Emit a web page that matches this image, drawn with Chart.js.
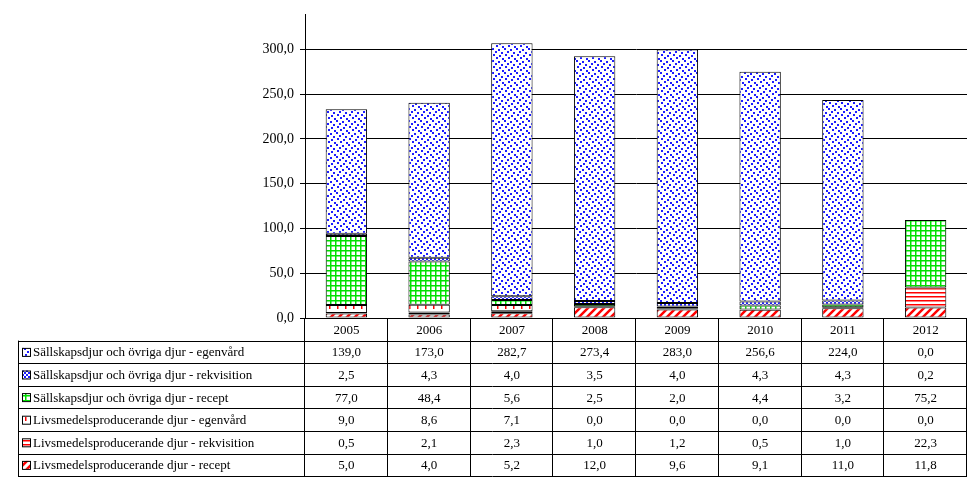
<!DOCTYPE html>
<html><head><meta charset="utf-8">
<script src="https://cdn.jsdelivr.net/npm/chart.js@4"></script>
<style>html,body{margin:0;padding:0;background:#fff}#w{width:967px;height:496px}</style>
</head><body><div id="w"><canvas id="c"></canvas></div>
<script>
const years = ['2005','2006','2007','2008','2009','2010','2011','2012'];
const seriesNames = [
 'Livsmedelsproducerande djur - recept',
 'Livsmedelsproducerande djur - rekvisition',
 'Livsmedelsproducerande djur - egenvård',
 'Sällskapsdjur och övriga djur - recept',
 'Sällskapsdjur och övriga djur - rekvisition',
 'Sällskapsdjur och övriga djur - egenvård'];
const lmRecept = [5.0,4.0,5.2,12.0,9.6,9.1,11.0,11.8];
const lmRekv = [0.5,2.1,2.3,1.0,1.2,0.5,1.0,22.3];
const lmEgen = [9.0,8.6,7.1,0.0,0.0,0.0,0.0,0.0];
const sdRecept = [77.0,48.4,5.6,2.5,2.0,4.4,3.2,75.2];
const sdRekv = [2.5,4.3,4.0,3.5,4.0,4.3,4.3,0.2];
const sdEgen = [139.0,173.0,282.7,273.4,283.0,256.6,224.0,0.0];
const yTicks = [0,50,100,150,200,250,300];

function pat(size, draw){const c=document.createElement('canvas');c.width=c.height=size;const g=c.getContext('2d');draw(g);return g.createPattern(c,'repeat');}
const pDiag=pat(8,g=>{g.fillStyle='#fff';g.fillRect(0,0,8,8);g.strokeStyle='#f00';g.lineWidth=2.5;g.beginPath();g.moveTo(-2,10);g.lineTo(10,-2);g.moveTo(-6,6);g.lineTo(6,-6);g.moveTo(2,14);g.lineTo(14,2);g.stroke();});
const pHoriz=pat(4,g=>{g.fillStyle='#fff';g.fillRect(0,0,4,4);g.fillStyle='#f00';g.fillRect(0,0,4,1.5);});
const pRedDot=pat(8,g=>{g.fillStyle='#fff';g.fillRect(0,0,8,8);g.fillStyle='#f00';g.fillRect(1,1,1.5,4);});
const pGrid=pat(5,g=>{g.fillStyle='#fff';g.fillRect(0,0,5,5);g.fillStyle='#00e000';g.fillRect(0,0,5,1.5);g.fillRect(0,0,1.5,5);});
const pBlueSmall=pat(4,g=>{g.fillStyle='#fff';g.fillRect(0,0,4,4);g.fillStyle='#1c1cff';g.fillRect(0,0,2,2);g.fillRect(2,2,2,2);});
const dots=[[0,0],[6,1],[3,3],[9,4],[1,6],[7,7],[4,9],[10,10]];
const pBlueDot=pat(12,g=>{g.fillStyle='#fff';g.fillRect(0,0,12,12);g.fillStyle='#1c1cff';dots.forEach(([x,y])=>g.fillRect(x,y,2,2));});
const fills=[pDiag,pHoriz,pRedDot,pGrid,pBlueSmall,pBlueDot];
const dataArr=[lmRecept,lmRekv,lmEgen,sdRecept,sdRekv,sdEgen];

const tablePlugin={id:'tbl',afterDraw(ch){
 const g=ch.ctx, xs=ch.scales.x, ca=ch.chartArea;
 const left=18, colW=(ca.right-ca.left)/years.length, top=ca.bottom, rh=22.6;
 g.save();g.strokeStyle='#000';g.lineWidth=1;g.fillStyle='#000';
 g.font='13px "Liberation Serif", "Times New Roman", serif';g.textBaseline='middle';
 g.textAlign='center';
 for(let i=0;i<years.length;i++){g.fillText(years[i],xs.getPixelForValue(i),top+rh/2+1);}
 const bottom=top+rh*7;
 g.beginPath();
 g.moveTo(ca.left,top+0.5);g.lineTo(ca.right,top+0.5);
 for(let r=1;r<=7;r++){const y=Math.round(top+rh*r)+0.5;g.moveTo(left,y);g.lineTo(ca.right,y);}
 g.moveTo(left+0.5,top+rh);g.lineTo(left+0.5,bottom);
 for(let i=0;i<=years.length;i++){const x=Math.round(ca.left+colW*i)-0.5;g.moveTo(x,top);g.lineTo(x,bottom);}
 g.stroke();
 for(let r=0;r<6;r++){
  const si=5-r, y=top+rh*(r+1)+rh/2+1;
  g.fillStyle=fills[si];g.fillRect(22,y-5,8,8);g.strokeRect(22.5,y-4.5,8,8);
  g.fillStyle='#000';g.textAlign='left';g.fillText(seriesNames[si],33,y);
  g.textAlign='center';
  for(let i=0;i<years.length;i++){g.fillText(dataArr[si][i].toFixed(1).replace('.',','),xs.getPixelForValue(i),y);}
 }
 g.restore();
}};

new Chart(document.getElementById('c'),{
 type:'bar',
 data:{labels:years,datasets:dataArr.map((d,i)=>({label:seriesNames[i],data:d,backgroundColor:fills[i],borderColor:'#000',borderWidth:1,borderSkipped:false,categoryPercentage:1,barPercentage:0.5}))},
 options:{responsive:true,maintainAspectRatio:false,animation:false,
  layout:{padding:{left:0,right:0,top:-12,bottom:178}},
  plugins:{legend:{display:false},tooltip:{enabled:false}},
  scales:{
   x:{stacked:true,ticks:{display:false},grid:{display:false,drawTicks:false},border:{display:false}},
   y:{stacked:true,min:0,max:339,afterFit(s){s.width=305;},
    afterBuildTicks(s){s.ticks=yTicks.map(v=>({value:v}));},
    ticks:{color:'#000',font:{family:'"Liberation Serif", serif',size:14},padding:6,callback:v=>v.toFixed(1).replace('.',',')},
    grid:{color:'#000',drawTicks:true,tickLength:5},border:{color:'#000'}}
  }}
 ,plugins:[tablePlugin]});
</script></body></html>
